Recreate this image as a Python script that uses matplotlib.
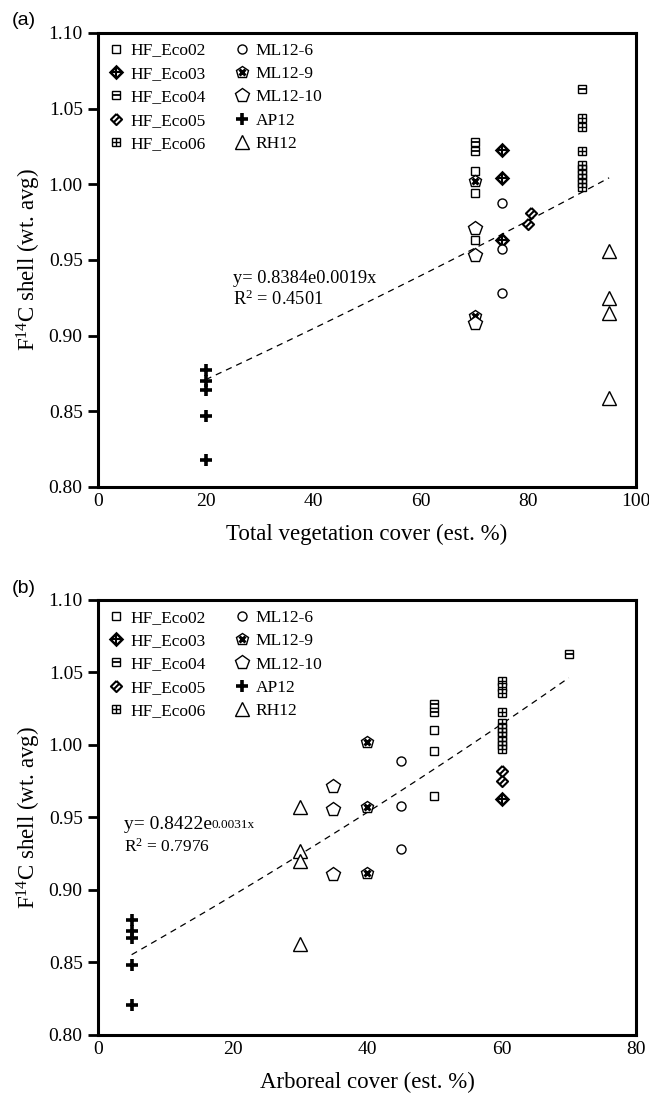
import numpy as np
import matplotlib
matplotlib.use('Agg')
import matplotlib.pyplot as plt
from matplotlib.path import Path

plt.rcParams['font.family'] = 'Liberation Serif'
plt.rcParams['mathtext.fontset'] = 'custom'
plt.rcParams['mathtext.rm'] = 'Liberation Serif'
plt.rcParams['mathtext.it'] = 'Liberation Serif:italic'

# ---- panel (a): total vegetation cover ----
a_hf02_x = [70, 70, 70]
a_hf02_y = [1.009, 0.994, 0.963]
a_hf03_x = [75, 75, 75]
a_hf03_y = [1.0225, 1.004, 0.963]
a_hf04_x = [70, 70, 90]
a_hf04_y = [1.028, 1.022, 1.063]
a_hf05_x = [80.5, 80]
a_hf05_y = [0.981, 0.974]
a_hf06_x = [90, 90, 90, 90, 90, 90, 90, 90, 90]
a_hf06_y = [1.044, 1.038, 1.022, 1.013, 1.010, 1.007, 1.004, 1.001, 0.998]
a_ml6_x = [75, 75, 75]
a_ml6_y = [0.9875, 0.957, 0.928]
a_ml9_x = [70, 70]
a_ml9_y = [1.002, 0.913]
a_ml10_x = [70, 70, 70]
a_ml10_y = [0.971, 0.953, 0.908]
a_ap12_x = [20, 20, 20, 20, 20]
a_ap12_y = [0.877, 0.870, 0.864, 0.847, 0.818]
a_rh12_x = [95, 95, 95, 95]
a_rh12_y = [0.956, 0.925, 0.915, 0.859]
a_fit = (0.8384, 0.0019, 20, 95)

# ---- panel (b): arboreal cover ----
b_hf02_x = [50, 50, 50]
b_hf02_y = [1.010, 0.996, 0.965]
b_hf03_x = [60]
b_hf03_y = [0.963]
b_hf04_x = [50, 50, 70]
b_hf04_y = [1.028, 1.023, 1.063]
b_hf05_x = [60, 60]
b_hf05_y = [0.982, 0.975]
b_hf06_x = [60] * 11
b_hf06_y = [1.044, 1.040, 1.036, 1.023, 1.015, 1.012, 1.009, 1.006, 1.003, 1.000, 0.997]
b_ml6_x = [45, 45, 45]
b_ml6_y = [0.989, 0.958, 0.928]
b_ml9_x = [40, 40, 40]
b_ml9_y = [1.002, 0.957, 0.912]
b_ml10_x = [35, 35, 35]
b_ml10_y = [0.972, 0.9555, 0.911]
b_ap12_x = [5, 5, 5, 5, 5]
b_ap12_y = [0.879, 0.872, 0.867, 0.848, 0.821]
b_rh12_x = [30, 30, 30, 30]
b_rh12_y = [0.957, 0.927, 0.920, 0.863]
b_fit = (0.8422, 0.0031, 5, 70)

labels = ['HF_Eco02', 'HF_Eco03', 'HF_Eco04', 'HF_Eco05', 'HF_Eco06',
          'ML12-6', 'ML12-9', 'ML12-10', 'AP12', 'RH12']

# diamond with a stripe through the middle
striped_diamond = Path([(0, 1), (1, 0), (0, -1), (-1, 0), (0, 1), (-0.5, -0.5), (0.5, 0.5)],
                       [Path.MOVETO, Path.LINETO, Path.LINETO, Path.LINETO, Path.LINETO,
                        Path.MOVETO, Path.LINETO])

# marker layers for each series: (marker, size, edge width)
styles = [
    [('s', 6, 1.0)],
    [('D', 6.5, 1.8), ('+', 6.5, 1.5)],
    [('s', 6, 1.0), ('_', 6, 1.3)],
    [(striped_diamond, 8, 1.5)],
    [('s', 6, 1.0), ('+', 6, 1.0)],
    [('o', 6.5, 1.0)],
    [('p', 9, 1.0), ('x', 4.5, 2.2)],
    [('p', 10, 1.0)],
    [('+', 8, 2.6)],
    [('^', 10, 1.0)],
]


def plot_series(ax, x, y, layers):
    handles = []
    for m, ms, mew in layers:
        h, = ax.plot(x, y, linestyle='none', marker=m, markersize=ms, markeredgewidth=mew,
                     markerfacecolor='white' if m not in ('+', 'x', '_') else 'black',
                     markeredgecolor='black', zorder=3)
        handles.append(h)
    return tuple(handles)


def draw_panel(ax, data, fit, xmax, xlabel):
    handles = []
    for (x, y), layers in zip(data, styles):
        handles.append(plot_series(ax, x, y, layers))
    a, b, x0, x1 = fit
    xs = np.linspace(x0, x1, 100)
    ax.plot(xs, a * np.exp(b * xs), 'k--', lw=0.9, dashes=(5, 4), zorder=2)

    ax.set_xlim(0, xmax)
    ax.set_ylim(0.80, 1.10)
    ax.set_yticks(np.arange(0.80, 1.101, 0.05))
    ax.set_yticklabels([f'{v:.2f}' for v in np.arange(0.80, 1.101, 0.05)])
    ax.tick_params(axis='y', direction='out', length=7, width=2, labelsize=14, pad=4)
    ax.tick_params(axis='x', length=0, labelsize=14, pad=4)
    for s in ax.spines.values():
        s.set_linewidth(2.2)
    ax.set_xlabel(xlabel, fontsize=16.5, labelpad=10)
    ax.set_ylabel('F$^{14}$C shell (wt. avg)', fontsize=16.5, labelpad=4)

    ax.legend(handles, labels, ncol=2, loc='upper left', bbox_to_anchor=(0.0, 1.0),
              frameon=False, fontsize=12.5, handlelength=1.0, handletextpad=0.3,
              columnspacing=1.6, labelspacing=0.42, borderaxespad=0.15)


fig = plt.figure(figsize=(6.49, 10.96), dpi=100)
ax1 = fig.add_axes([0.151, 0.5557, 0.829, 0.4143])
ax2 = fig.add_axes([0.151, 0.0557, 0.829, 0.3969])

data_a = [(a_hf02_x, a_hf02_y), (a_hf03_x, a_hf03_y), (a_hf04_x, a_hf04_y),
          (a_hf05_x, a_hf05_y), (a_hf06_x, a_hf06_y), (a_ml6_x, a_ml6_y),
          (a_ml9_x, a_ml9_y), (a_ml10_x, a_ml10_y), (a_ap12_x, a_ap12_y),
          (a_rh12_x, a_rh12_y)]
data_b = [(b_hf02_x, b_hf02_y), (b_hf03_x, b_hf03_y), (b_hf04_x, b_hf04_y),
          (b_hf05_x, b_hf05_y), (b_hf06_x, b_hf06_y), (b_ml6_x, b_ml6_y),
          (b_ml9_x, b_ml9_y), (b_ml10_x, b_ml10_y), (b_ap12_x, b_ap12_y),
          (b_rh12_x, b_rh12_y)]

draw_panel(ax1, data_a, a_fit, 100, 'Total vegetation cover (est. %)')
ax1.set_xticks([0, 20, 40, 60, 80, 100])
draw_panel(ax2, data_b, b_fit, 80, 'Arboreal cover (est. %)')
ax2.set_xticks([0, 20, 40, 60, 80])

# fit equations
ax1.text(25.1, 0.9376, 'y= 0.8384e0.0019x', fontsize=13.2, va='center')
ax1.text(25.1, 0.9243, 'R$^2$ = 0.4501', fontsize=13.2, va='center')
t = ax2.text(3.8, 0.945, 'y= 0.8422e', fontsize=14, va='center')
ax2.annotate('0.0031x', xy=(1, 0.12), xycoords=t, fontsize=9.5, va='bottom')
ax2.text(3.8, 0.930, 'R$^2$ = 0.7976', fontsize=12.5, va='center')

fig.text(0.018, 0.981, '(a)', fontsize=14, family='Liberation Sans', va='center')
fig.text(0.018, 0.4635, '(b)', fontsize=14, family='Liberation Sans', va='center')

fig.savefig('out.png', dpi=100)
